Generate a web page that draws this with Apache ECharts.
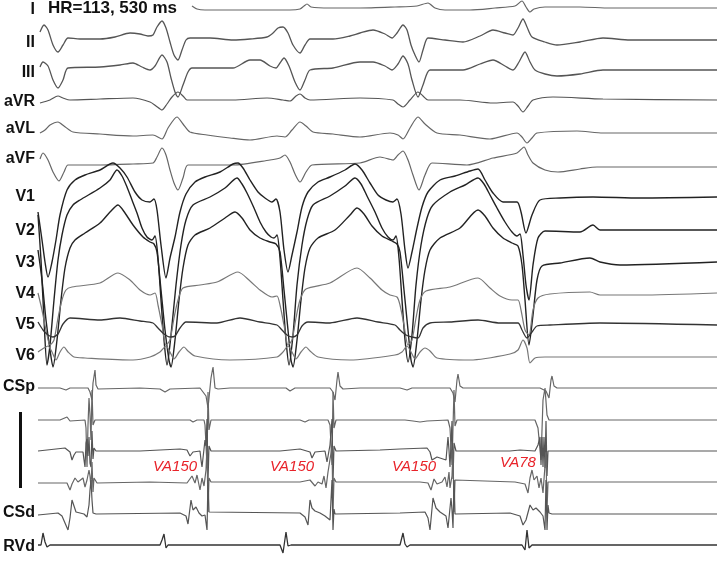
<!DOCTYPE html>
<html><head><meta charset="utf-8">
<script src="https://cdn.jsdelivr.net/npm/echarts@6/dist/echarts.min.js"></script>
<style>html,body{margin:0;padding:0;background:#fff}#c{width:720px;height:561px}</style>
</head><body><div id="c"></div>
<script>
// Each lead: [time, deflection] (time in sample units, deflection positive = up)
const leadI = [[192,2],[197,-1],[205,-2],[250,-2],[290,-2],[300,-1],[304,2],[307,4],[311,1],[330,0],[360,0],[395,1],[417,2],[428,5],[435,0],[445,-2],[470,-2],[495,0],[515,2],[522,7],[526,1],[530,-4],[534,-1],[545,1],[580,1],[610,0],[717,0]];
const leadII = [[40,8],[44,15],[48,10],[53,-5],[58,-12],[63,-5],[68,2],[80,1],[100,1],[115,3],[130,7],[140,6],[148,4],[153,5],[157,13],[162,19],[166,12],[170,-2],[174,-15],[178,-20],[182,-10],[186,0],[190,2],[210,2],[233,0],[250,1],[267,3],[273,7],[278,12],[283,13],[288,7],[293,-5],[300,-13],[305,-5],[310,1],[333,1],[350,4],[360,7],[373,10],[385,6],[392,2],[397,7],[403,15],[407,10],[411,-5],[415,-15],[419,-22],[423,-10],[428,2],[445,0],[463,-2],[480,4],[493,10],[505,7],[513,5],[518,12],[523,21],[527,13],[532,3],[545,-2],[557,-5],[580,-2],[603,2],[630,0],[717,0]];
const leadIII = [[40,3],[43,8],[48,4],[53,-10],[58,-18],[63,-10],[68,2],[100,3],[120,5],[133,7],[142,3],[150,0],[155,4],[162,15],[167,8],[171,-8],[175,-22],[178,-27],[183,-15],[188,-2],[192,2],[233,2],[250,10],[260,10],[270,4],[276,2],[280,7],[284,12],[289,4],[295,-12],[300,-20],[305,-10],[310,0],[333,2],[360,8],[373,8],[385,4],[392,0],[398,6],[403,14],[408,6],[412,-10],[418,-27],[423,-15],[430,0],[463,0],[480,6],[493,10],[505,4],[513,0],[519,8],[525,18],[530,8],[535,0],[545,-4],[557,-6],[580,-4],[603,0],[717,0]];
const leadaVR = [[40,-3],[50,0],[58,4],[63,2],[70,0],[100,1],[133,2],[150,-2],[156,-6],[162,-10],[167,-4],[172,3],[178,8],[183,4],[187,0],[233,0],[267,2],[283,0],[290,-1],[296,4],[300,6],[305,2],[310,0],[360,2],[393,0],[398,-4],[403,-7],[410,0],[418,8],[423,4],[428,0],[460,0],[493,-3],[513,-2],[518,-6],[523,-12],[528,-6],[533,0],[553,3],[603,1],[717,0]];
const leadaVL = [[40,0],[45,3],[50,8],[58,11],[64,7],[73,1],[100,-1],[133,-3],[153,-2],[162,-6],[168,5],[177,16],[183,9],[190,1],[207,-2],[230,-5],[250,-7],[277,-3],[285,-4],[292,3],[300,11],[306,7],[313,1],[333,-1],[360,-4],[390,0],[398,-2],[403,-6],[410,5],[418,16],[425,9],[437,0],[460,-2],[490,-6],[517,0],[522,-4],[527,-10],[532,-5],[537,0],[577,2],[603,0],[717,0]];
const leadaVF = [[40,7],[43,13],[48,6],[53,-6],[59,-15],[64,-6],[68,1],[100,1],[133,2],[153,3],[157,9],[162,18],[166,11],[170,-4],[174,-17],[178,-24],[183,-12],[188,1],[233,1],[270,6],[280,8],[285,11],[290,4],[295,-8],[300,-16],[306,-6],[312,1],[360,3],[380,9],[393,6],[398,11],[403,15],[408,6],[413,-9],[419,-24],[425,-9],[432,3],[467,1],[493,8],[517,13],[524,19],[528,11],[533,3],[545,-4],[558,-6],[580,-3],[597,-1],[647,-1],[717,-1]];
const leadV1 = [[38,-14],[42,-42],[45,-64],[48,-79],[52,-64],[56,-42],[60,-17],[67,8],[75,18],[85,23],[100,28],[113,35],[120,30],[127,21],[135,6],[142,-2],[150,-4],[154,-1],[157,-12],[161,-47],[166,-80],[170,-60],[175,-39],[180,-14],[186,4],[195,16],[205,21],[220,26],[233,34],[238,35],[243,30],[250,18],[258,6],[265,0],[272,-4],[276,-1],[280,-14],[284,-52],[288,-74],[292,-57],[297,-34],[302,-9],[308,6],[318,16],[330,21],[345,28],[355,34],[362,28],[370,15],[378,3],[386,-2],[393,-4],[397,-1],[401,-16],[405,-52],[408,-70],[412,-54],[417,-30],[422,-9],[428,6],[440,18],[455,22],[470,27],[478,29],[485,18],[493,5],[503,-4],[517,-4],[521,-14],[526,-35],[532,-17],[540,-2],[560,0],[593,1],[640,0],[717,1]];
const leadV2 = [[38,16],[41,-29],[44,-89],[47,-134],[50,-114],[54,-69],[58,-29],[62,-4],[67,16],[73,26],[80,31],[100,43],[110,51],[117,61],[122,55],[127,44],[132,31],[137,18],[142,3],[147,-6],[152,-9],[155,-5],[158,-27],[161,-69],[164,-109],[167,-134],[171,-104],[176,-54],[181,-14],[186,11],[193,26],[210,34],[225,43],[237,53],[242,47],[247,38],[254,23],[260,9],[266,-1],[271,-6],[274,-7],[277,-4],[280,-27],[283,-69],[286,-109],[289,-134],[293,-104],[297,-54],[302,-14],[307,11],[313,26],[330,35],[345,45],[355,53],[361,47],[367,35],[375,19],[382,3],[388,-6],[393,-9],[396,-5],[399,-27],[402,-69],[405,-109],[408,-131],[412,-104],[416,-54],[421,-14],[427,13],[433,26],[450,39],[465,46],[478,53],[484,47],[490,36],[497,23],[505,9],[512,-1],[517,-5],[520,-3],[523,-24],[526,-54],[529,-69],[533,-34],[538,-7],[545,0],[580,-1],[593,6],[600,1],[620,1],[717,1]];
const leadV3 = [[38,15],[42,-15],[46,-55],[50,-85],[53,-102],[57,-75],[61,-35],[65,-3],[70,17],[75,25],[85,32],[100,42],[110,53],[118,60],[125,52],[133,40],[143,28],[150,23],[154,21],[157,13],[161,-25],[165,-65],[169,-95],[171,-102],[175,-75],[179,-35],[183,-3],[188,20],[195,30],[210,37],[225,47],[235,53],[242,47],[250,35],[260,27],[270,23],[276,21],[280,13],[284,-25],[288,-65],[291,-95],[293,-102],[297,-75],[301,-35],[305,-3],[310,17],[318,27],[335,35],[350,50],[357,57],[364,51],[372,39],[382,29],[392,24],[397,21],[400,13],[404,-25],[408,-65],[411,-95],[413,-102],[417,-75],[421,-35],[425,-5],[430,15],[440,27],[460,37],[478,55],[485,49],[493,37],[503,27],[512,22],[518,19],[522,0],[525,-35],[529,-80],[533,-50],[537,-15],[542,-1],[560,2],[590,7],[600,3],[620,0],[717,3]];
const leadV4 = [[38,2],[42,-15],[46,-35],[50,-50],[54,-45],[58,-23],[62,-5],[66,5],[72,8],[100,12],[118,22],[130,15],[140,5],[150,0],[155,2],[158,-10],[162,-30],[166,-50],[170,-45],[174,-23],[178,-5],[183,7],[200,10],[217,13],[238,23],[250,14],[260,5],[272,-2],[277,-1],[280,-10],[284,-30],[288,-50],[292,-45],[296,-23],[300,-5],[306,6],[330,12],[357,27],[370,17],[382,5],[390,0],[397,-2],[400,-10],[404,-30],[408,-50],[412,-45],[416,-23],[420,-5],[426,4],[450,8],[478,17],[490,7],[500,-1],[512,-5],[518,-5],[521,-15],[525,-35],[529,-40],[533,-15],[538,-3],[550,1],[590,3],[600,0],[640,0],[717,2]];
const leadV5 = [[38,3],[43,-5],[48,-10],[53,-12],[58,-9],[63,1],[70,7],[100,5],[120,7],[140,4],[153,2],[158,-3],[164,-9],[170,-12],[175,-11],[180,-3],[186,3],[217,2],[240,7],[260,3],[277,0],[282,-5],[287,-10],[292,-12],[297,-10],[302,-1],[308,3],[330,2],[357,7],[378,3],[395,0],[400,-5],[406,-10],[412,-12],[418,-13],[423,-3],[430,2],[450,3],[478,5],[500,2],[518,2],[522,-5],[527,-13],[532,-7],[537,-1],[550,0],[600,2],[717,0]];
const leadV6 = [[38,5],[44,9],[48,11],[52,5],[56,-3],[60,5],[64,10],[68,5],[74,0],[85,-1],[133,-3],[150,0],[160,5],[166,11],[170,5],[174,-2],[179,5],[184,10],[188,6],[195,1],[230,-3],[277,0],[283,5],[288,11],[292,5],[296,-2],[301,5],[306,10],[310,6],[318,0],[350,-3],[395,2],[402,5],[407,11],[411,5],[415,-2],[420,5],[425,9],[430,6],[437,-1],[470,-3],[510,3],[518,7],[523,17],[527,9],[530,-6],[535,-1],[545,0],[600,0],[717,0]];
const leadCSp = [[38,0],[60,0],[66,-2],[70,0],[88,0],[90,-4],[92,-12],[93,5],[95,18],[96,3],[98,-1],[100,0],[140,0],[160,-1],[165,-4],[170,-1],[200,0],[203,-4],[206,-8],[208,-20],[211,10],[213,21],[215,0],[218,-1],[230,0],[286,0],[290,-3],[295,0],[330,0],[333,-4],[335,-12],[337,8],[338,16],[340,2],[343,-1],[360,0],[400,0],[407,-2],[412,0],[450,0],[453,-5],[455,-14],[457,8],[458,14],[460,2],[463,0],[540,0],[546,-3],[549,-10],[551,8],[552,12],[554,2],[557,0],[717,0]];
const leadCS2 = [[38,0],[60,0],[67,3],[70,-1],[85,0],[86,-8],[87,-47],[88,-5],[89,22],[90,5],[91,-20],[92,30],[93,-5],[95,0],[190,0],[193,-2],[197,0],[204,0],[205,-5],[207,-45],[208,28],[209,-10],[211,0],[300,0],[305,-2],[309,0],[328,0],[330,-5],[332,-45],[333,28],[334,-8],[336,0],[405,0],[413,-1],[420,-2],[427,-1],[448,0],[450,-8],[452,-45],[454,30],[455,-6],[457,0],[535,0],[538,-8],[541,-40],[543,20],[545,32],[547,5],[549,0],[717,0]];
const leadCS3 = [[38,0],[65,3],[70,-1],[72,-9],[74,-4],[76,-1],[83,-1],[84,-9],[85,-16],[86,8],[87,12],[88,-5],[89,14],[90,-12],[91,-16],[92,20],[93,-8],[94,3],[96,0],[140,0],[180,2],[187,1],[190,-5],[193,-1],[200,0],[201,-9],[202,-16],[205,11],[206,5],[207,32],[208,-30],[209,5],[211,0],[280,0],[300,2],[310,-1],[312,-7],[315,-1],[325,0],[327,-11],[330,6],[332,32],[333,-30],[334,5],[336,0],[380,1],[400,2],[427,3],[430,-1],[432,-9],[437,-6],[446,-9],[448,14],[449,1],[450,-16],[452,30],[453,-28],[454,8],[456,0],[510,0],[520,1],[535,0],[538,6],[540,14],[541,-14],[542,14],[543,-16],[544,14],[545,-17],[546,30],[547,-25],[548,0],[717,0]];
const leadCS4 = [[38,-1],[67,-1],[70,-8],[72,-2],[75,4],[78,0],[80,0],[83,4],[85,-5],[87,2],[89,12],[90,6],[91,-5],[92,20],[93,-10],[94,4],[97,-1],[150,0],[187,-1],[192,6],[195,-1],[197,7],[200,-8],[202,4],[204,-4],[206,12],[207,35],[208,-30],[209,4],[211,0],[300,0],[310,2],[315,-4],[318,0],[322,-2],[324,6],[326,-6],[328,10],[332,35],[333,-30],[334,4],[336,0],[420,0],[428,-1],[431,-8],[434,3],[437,-2],[442,0],[445,5],[447,-5],[449,10],[450,-6],[452,6],[453,32],[454,-30],[455,2],[457,0],[515,0],[525,-2],[528,-11],[530,4],[532,12],[534,2],[537,6],[539,-6],[541,4],[543,-11],[546,30],[547,-28],[548,0],[717,0]];
const leadCSd = [[38,-1],[58,1],[62,-2],[65,-9],[68,-16],[70,-4],[72,14],[74,8],[76,2],[80,1],[84,0],[87,-3],[89,9],[90,24],[91,34],[92,14],[93,1],[96,0],[180,1],[186,-2],[188,-10],[190,-11],[191,14],[193,4],[196,7],[199,1],[202,-2],[205,-1],[207,-16],[208,34],[209,2],[211,0],[300,1],[305,-3],[308,-11],[310,14],[312,6],[315,3],[320,1],[325,-2],[330,-6],[332,34],[333,-16],[334,5],[335,0],[400,1],[425,2],[428,-4],[430,-16],[433,16],[436,6],[440,2],[446,-2],[448,-14],[450,-16],[451,16],[452,4],[453,-14],[454,34],[455,0],[510,1],[520,-2],[523,-11],[526,-6],[530,9],[533,4],[536,6],[540,2],[543,-2],[545,-16],[546,34],[547,-16],[548,9],[549,1],[552,0],[717,0]];
const leadRVd = [[38,0],[41,0],[43,12],[45,3],[47,-2],[50,0],[160,0],[162,5],[164,11],[166,-3],[168,0],[280,0],[283,-8],[286,13],[288,-1],[291,0],[400,0],[403,12],[405,1],[407,-2],[410,0],[522,0],[525,-5],[527,15],[529,-3],[532,0],[717,0]];

const leadNames = ['I','II','III','aVR','aVL','aVF','V1','V2','V3','V4','V5','V6','CSp','','','','CSd','RVd'];
const annotations = ['VA150','VA150','VA150','VA78'];
const headerText = 'HR=113, 530 ms';

// layout (pixels): baseline of each trace, label position, colour, width
const leads = [leadI,leadII,leadIII,leadaVR,leadaVL,leadaVF,leadV1,leadV2,leadV3,leadV4,leadV5,leadV6,leadCSp,leadCS2,leadCS3,leadCS4,leadCSd,leadRVd];
const baselines = [8,40,70,100,133,166,198,231,265,295,325,357,388,420,451,482,514,545];
const labelY = [10,43,73,102,129,159,197,231,263,294,325,356,387,0,0,0,513,547];
const colors = ['#666','#555','#555','#555','#666','#666','#222','#222','#222','#777','#333','#777','#666','#666','#555','#666','#555','#333'];
const widths = [1.2,1.3,1.3,1.2,1.2,1.2,1.4,1.4,1.4,1.2,1.3,1.2,1.2,1.2,1.2,1.2,1.2,1.3];
const annotPos = [[175,467],[292,467],[414,467],[518,463]];

const chart = echarts.init(document.getElementById('c'), null, {renderer:'canvas'});
const series = leads.map((arr,i)=>({
  type:'line', showSymbol:false, silent:true, animation:false,
  smooth: i < 12 ? 0.25 : false,
  lineStyle:{color:colors[i], width:widths[i]},
  data: arr.map(p=>[p[0], baselines[i]-p[1]])
}));
const graphics = [];
leadNames.forEach((n,i)=>{
  if(!n) return;
  graphics.push({type:'text', x:35, y:labelY[i], style:{text:n, font:'bold 16px "Liberation Sans", Arial, sans-serif', fill:'#111', textAlign:'right', textVerticalAlign:'middle'}});
});
graphics.push({type:'text', x:48, y:8, style:{text:headerText, font:'bold 17px "Liberation Sans", Arial, sans-serif', fill:'#111', textVerticalAlign:'middle'}});
graphics.push({type:'rect', shape:{x:19, y:412, width:3, height:76}, style:{fill:'#111'}});
annotations.forEach((t,i)=>{
  graphics.push({type:'text', x:annotPos[i][0], y:annotPos[i][1], style:{text:t, font:'italic 15px "Liberation Sans", Arial, sans-serif', fill:'#e8232a', textAlign:'center', textVerticalAlign:'middle'}});
});
chart.setOption({
  animation:false,
  backgroundColor:'#fff',
  grid:{left:0,right:0,top:0,bottom:0},
  xAxis:{type:'value', min:0, max:720, show:false},
  yAxis:{type:'value', min:0, max:561, inverse:true, show:false},
  series: series,
  graphic: graphics
});
</script></body></html>
